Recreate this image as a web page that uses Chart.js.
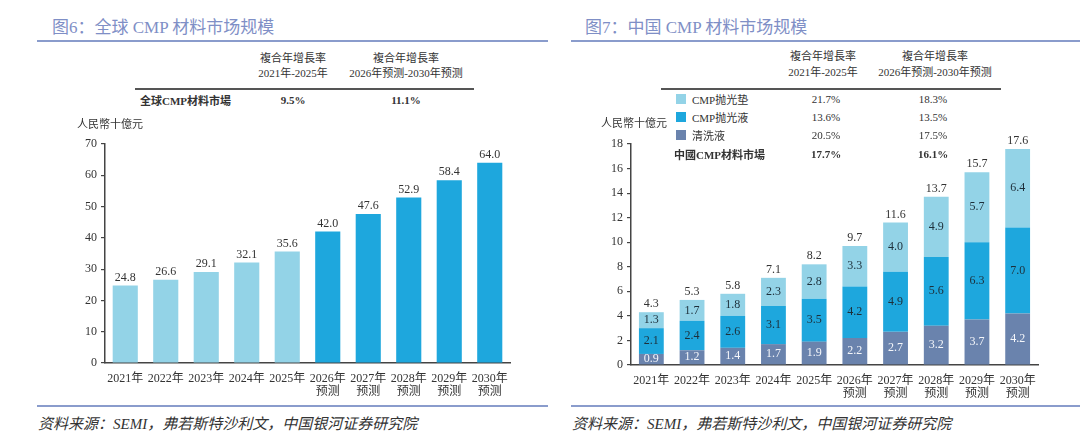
<!DOCTYPE html>
<html>
<head>
<meta charset="utf-8">
<script src="https://cdn.jsdelivr.net/npm/chart.js@4"></script>
<style>
  body { margin: 0; background: #fff; width: 1080px; height: 440px; position: relative; overflow: hidden; }
  canvas { position: absolute; }
  .t { position: absolute; white-space: nowrap; color: #333; font-family: 'Liberation Serif', 'Noto Sans CJK SC', serif; }
  .rule { position: absolute; }
</style>
</head>
<body>
<canvas id="global-chart" width="480" height="270" style="left:40px;top:130px;width:480px;height:270px"></canvas>
<canvas id="china-chart" width="480" height="270" style="left:580px;top:130px;width:480px;height:270px"></canvas>
<script>
// Data
const years = [['2021年'], ['2022年'], ['2023年'], ['2024年'], ['2025年'],
  ['2026年', '预测'], ['2027年', '预测'], ['2028年', '预测'], ['2029年', '预测'], ['2030年', '预测']];
const globalMarket = [24.8, 26.6, 29.1, 32.1, 35.6, 42.0, 47.6, 52.9, 58.4, 64.0];
const cleaningLiquid = [0.9, 1.2, 1.4, 1.7, 1.9, 2.2, 2.7, 3.2, 3.7, 4.2];
const polishingSlurry = [2.1, 2.4, 2.6, 3.1, 3.5, 4.2, 4.9, 5.6, 6.3, 7.0];
const polishingPad = [1.3, 1.7, 1.8, 2.3, 2.8, 3.3, 4.0, 4.9, 5.7, 6.4];
const chinaTotal = [4.3, 5.3, 5.8, 7.1, 8.2, 9.7, 11.6, 13.7, 15.7, 17.6];
const globalTicks = [0, 10, 20, 30, 40, 50, 60, 70];
const chinaTicks = [0, 2, 4, 6, 8, 10, 12, 14, 16, 18];

const LIGHT = '#93d3e7';
const DARK = '#1ea7dd';
const SLATE = '#6a83ad';
const SERIF = "'Liberation Serif', 'Noto Sans CJK SC', serif";

// Page text helpers
function txt(x, y, s, opts = {}) {
  const d = document.createElement('div');
  d.className = 't';
  d.textContent = s;
  d.style.left = x + 'px';
  d.style.top = y + 'px';
  d.style.fontSize = (opts.size || 11) + 'px';
  if (opts.bold) d.style.fontWeight = 'bold';
  if (opts.italic) d.style.fontStyle = 'italic';
  if (opts.color) d.style.color = opts.color;
  d.style.transform = opts.center ? 'translate(-50%,-50%)' : 'translate(0,-50%)';
  document.body.appendChild(d);
  return d;
}
function rule(x, y, w, h, color) {
  const d = document.createElement('div');
  d.className = 'rule';
  d.style.cssText = `left:${x}px;top:${y}px;width:${w}px;height:${h}px;background:${color}`;
  document.body.appendChild(d);
}

// Titles and footers
txt(52, 25, '图6：全球 CMP 材料市场规模', { size: 17, color: '#7f8fc6' });
txt(585, 25, '图7：中国 CMP 材料市场规模', { size: 17, color: '#7f8fc6' });
rule(37, 40, 511, 1.5, '#8a9ccc');
rule(571, 40, 509, 1.5, '#8a9ccc');
rule(37, 405, 511, 1.5, '#8a9ccc');
rule(571, 405, 509, 1.5, '#8a9ccc');
txt(38, 422, '资料来源：SEMI，弗若斯特沙利文，中国银河证券研究院', { size: 15, italic: true });
txt(572, 422, '资料来源：SEMI，弗若斯特沙利文，中国银河证券研究院', { size: 15, italic: true });

// Left table
txt(293, 57, '複合年增長率', { center: true });
txt(293, 72, '2021年-2025年', { center: true });
txt(406, 57, '複合年增長率', { center: true });
txt(406, 72, '2026年预测-2030年预测', { center: true });
rule(135, 88, 339, 1.5, '#555');
txt(140, 100, '全球CMP材料市場', { bold: true });
txt(293, 100, '9.5%', { center: true, bold: true });
txt(406, 100, '11.1%', { center: true, bold: true });
txt(77, 123, '人民幣十億元');

// Right table with legend
txt(823, 55, '複合年增長率', { center: true });
txt(823, 71, '2021年-2025年', { center: true });
txt(935, 55, '複合年增長率', { center: true });
txt(935, 71, '2026年预测-2030年预测', { center: true });
rule(661, 88, 340, 1.5, '#555');
const legendRows = [
  ['CMP抛光垫', LIGHT, '21.7%', '18.3%'],
  ['CMP抛光液', DARK, '13.6%', '13.5%'],
  ['清洗液', SLATE, '20.5%', '17.5%']
];
legendRows.forEach((r, i) => {
  const y = 99 + i * 18;
  rule(676, y - 5, 10, 10, r[1]);
  txt(692, y, r[0]);
  txt(826, y, r[2], { center: true });
  txt(933, y, r[3], { center: true });
});
txt(674, 154, '中國CMP材料市場', { bold: true });
txt(826, 154, '17.7%', { center: true, bold: true });
txt(933, 154, '16.1%', { center: true, bold: true });
txt(601, 122, '人民幣十億元');

// Value labels
const valueLabels = {
  id: 'valueLabels',
  afterDatasetsDraw(chart, args, opts) {
    const ctx = chart.ctx;
    ctx.save();
    ctx.font = '12px ' + SERIF;
    ctx.textAlign = 'center';
    chart.data.datasets.forEach((ds, di) => {
      const meta = chart.getDatasetMeta(di);
      meta.data.forEach((bar, i) => {
        if (opts.stacked) {
          const mid = (bar.y + bar.base) / 2;
          ctx.fillStyle = di === 0 ? '#f4f6fa' : '#1d2f3a';
          ctx.textBaseline = 'middle';
          ctx.fillText(ds.data[i].toFixed(1), bar.x, mid);
        }
        if (!opts.stacked || di === chart.data.datasets.length - 1) {
          const val = opts.stacked ? opts.totals[i] : ds.data[i];
          ctx.fillStyle = '#333';
          ctx.textBaseline = 'bottom';
          ctx.fillText(val.toFixed(1), bar.x, bar.y - 2);
        }
      });
    });
    ctx.restore();
  }
};

function axes(max, step, yWidth, xHeight, stacked) {
  return {
    x: {
      stacked: stacked,
      grid: { display: false },
      border: { color: '#444', width: 1.5 },
      ticks: { color: '#333', font: { family: SERIF, size: 12, lineHeight: 1.05 }, padding: 2, maxRotation: 0, autoSkip: false },
      afterFit(s) { s.height = xHeight; }
    },
    y: {
      stacked: stacked,
      min: 0, max: max,
      afterBuildTicks(s) { s.ticks = (stacked ? chinaTicks : globalTicks).map(v => ({ value: v })); },
      grid: { drawOnChartArea: false, color: '#444', tickLength: 4, lineWidth: 1.2 },
      border: { color: '#444', width: 1.5 },
      ticks: { color: '#333', font: { family: SERIF, size: 12 }, padding: 4 },
      afterFit(s) { s.width = yWidth; }
    }
  };
}

Chart.defaults.animation = false;
Chart.defaults.responsive = false;
Chart.defaults.devicePixelRatio = 1;

new Chart(document.getElementById('global-chart'), {
  type: 'bar',
  data: {
    labels: years,
    datasets: [{
      data: globalMarket,
      backgroundColor: globalMarket.map((v, i) => i < 5 ? LIGHT : DARK),
      barPercentage: 0.62,
      categoryPercentage: 1
    }]
  },
  options: {
    layout: { padding: { top: 14, right: 10, left: 2, bottom: 0 } },
    plugins: { legend: { display: false }, tooltip: { enabled: false }, valueLabels: { stacked: false } },
    scales: axes(70, 10, 63, 37, false)
  },
  plugins: [valueLabels]
});

new Chart(document.getElementById('china-chart'), {
  type: 'bar',
  data: {
    labels: years,
    datasets: [
      { label: '清洗液', data: cleaningLiquid, backgroundColor: SLATE, barPercentage: 0.61, categoryPercentage: 1 },
      { label: 'CMP抛光液', data: polishingSlurry, backgroundColor: DARK, barPercentage: 0.61, categoryPercentage: 1 },
      { label: 'CMP抛光垫', data: polishingPad, backgroundColor: LIGHT, barPercentage: 0.61, categoryPercentage: 1 }
    ]
  },
  options: {
    layout: { padding: { top: 14, right: 22, left: 0, bottom: 0 } },
    plugins: { legend: { display: false }, tooltip: { enabled: false }, valueLabels: { stacked: true, totals: chinaTotal } },
    scales: axes(18, 2, 51, 35, true)
  },
  plugins: [valueLabels]
});
</script>
</body>
</html>
